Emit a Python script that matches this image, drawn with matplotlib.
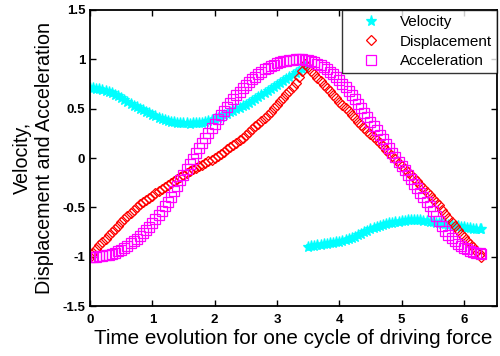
import matplotlib as mpl
mpl.use('Agg')
import matplotlib.pyplot as plt
import matplotlib.ticker as mticker
import numpy as np

# sampling grid over one cycle of the driving force (0 .. 2*pi)
t = list(np.round(np.arange(0, 6.26, 0.05), 2)) + [6.28]

velocity = [0.71, 0.705, 0.70, 0.695, 0.69, 0.68, 0.67, 0.655, 0.64, 0.625,
            0.61, 0.59, 0.57, 0.55, 0.53, 0.515, 0.50, 0.485, 0.47, 0.455,
            0.44, 0.425, 0.41, 0.40, 0.39, 0.38, 0.37, 0.365, 0.36, 0.357,
            0.355, 0.352, 0.35, 0.352, 0.355, 0.357, 0.36, 0.37, 0.38, 0.39,
            0.40, 0.41, 0.42, 0.435, 0.45, 0.465, 0.48, 0.495, 0.51, 0.525,
            0.54, 0.56, 0.58, 0.60, 0.62, 0.64, 0.66, 0.68, 0.70, 0.72,
            0.74, 0.76, 0.78, 0.80, 0.82, 0.84, 0.86, 0.88, 0.90, 0.92,
            -0.90, -0.895, -0.89, -0.885, -0.88, -0.875, -0.87, -0.865, -0.86, -0.855,
            -0.85, -0.84, -0.83, -0.82, -0.81, -0.795, -0.78, -0.765, -0.75, -0.735,
            -0.72, -0.71, -0.70, -0.69, -0.68, -0.67, -0.66, -0.655, -0.65, -0.645,
            -0.64, -0.635, -0.63, -0.63, -0.63, -0.63, -0.63, -0.635, -0.64, -0.645,
            -0.65, -0.655, -0.66, -0.665, -0.67, -0.675, -0.68, -0.685, -0.69, -0.695,
            -0.70, -0.705, -0.71, -0.715, -0.72, -0.72, -0.72]

displacement = [-1.00, -0.96, -0.92, -0.885, -0.85, -0.815, -0.78, -0.75, -0.72, -0.685,
                -0.65, -0.62, -0.59, -0.56, -0.53, -0.50, -0.47, -0.445, -0.42, -0.40,
                -0.38, -0.355, -0.33, -0.31, -0.29, -0.27, -0.25, -0.23, -0.21, -0.19,
                -0.17, -0.15, -0.13, -0.115, -0.10, -0.085, -0.07, -0.05, -0.03, -0.015,
                0.00, 0.02, 0.04, 0.065, 0.09, 0.11, 0.13, 0.155, 0.18, 0.205,
                0.23, 0.26, 0.29, 0.32, 0.35, 0.38, 0.41, 0.44, 0.47, 0.505,
                0.54, 0.575, 0.61, 0.645, 0.68, 0.72, 0.76, 0.82, 0.88, 0.95,
                0.92, 0.885, 0.85, 0.815, 0.78, 0.745, 0.71, 0.675, 0.64, 0.605,
                0.57, 0.54, 0.51, 0.475, 0.44, 0.405, 0.37, 0.335, 0.30, 0.27,
                0.24, 0.21, 0.18, 0.15, 0.12, 0.085, 0.05, 0.02, -0.01, -0.045,
                -0.08, -0.11, -0.14, -0.17, -0.20, -0.235, -0.27, -0.305, -0.34, -0.375,
                -0.41, -0.445, -0.48, -0.525, -0.57, -0.61, -0.65, -0.69, -0.73, -0.765,
                -0.80, -0.835, -0.87, -0.905, -0.94, -0.975, -1.00]

acceleration = [-1.00, -1.00, -1.00, -0.995, -0.99, -0.985, -0.98, -0.97, -0.96, -0.945,
                -0.93, -0.91, -0.89, -0.865, -0.84, -0.815, -0.79, -0.76, -0.73, -0.695,
                -0.66, -0.62, -0.58, -0.535, -0.49, -0.44, -0.39, -0.335, -0.28, -0.225,
                -0.17, -0.115, -0.06, -0.005, 0.05, 0.10, 0.15, 0.20, 0.25, 0.30,
                0.35, 0.395, 0.44, 0.48, 0.52, 0.56, 0.60, 0.635, 0.67, 0.705,
                0.74, 0.77, 0.80, 0.825, 0.85, 0.875, 0.90, 0.915, 0.93, 0.945,
                0.96, 0.97, 0.98, 0.985, 0.99, 0.995, 1.00, 1.00, 1.00, 0.995,
                0.99, 0.98, 0.97, 0.955, 0.94, 0.92, 0.90, 0.875, 0.85, 0.82,
                0.79, 0.755, 0.72, 0.68, 0.64, 0.595, 0.55, 0.505, 0.46, 0.415,
                0.37, 0.325, 0.28, 0.235, 0.19, 0.145, 0.10, 0.055, 0.01, -0.035,
                -0.08, -0.125, -0.17, -0.215, -0.26, -0.305, -0.35, -0.395, -0.44, -0.49,
                -0.54, -0.59, -0.64, -0.69, -0.74, -0.775, -0.81, -0.84, -0.87, -0.89,
                -0.91, -0.925, -0.94, -0.95, -0.96, -0.965, -0.97]

plt.rcParams['font.family'] = ['Liberation Sans', 'DejaVu Sans']

fig = plt.figure(figsize=(5, 3.56), dpi=100)
ax = fig.add_axes([0.18, 0.14, 0.814, 0.832])

ax.plot(t, velocity, '*', color='#00ffff', markersize=8, markeredgewidth=0.9, label='Velocity')
ax.plot(t, displacement, 'D', color='#ff0000', markersize=5.5, markeredgewidth=0.9,
        fillstyle='none', label='Displacement')
ax.plot(t, acceleration, 's', color='#ff00ff', markersize=7.5, markeredgewidth=0.9,
        fillstyle='none', label='Acceleration')

ax.set_xlim(0, 6.53)
ax.set_ylim(-1.5, 1.5)
ax.set_xticks([0, 1, 2, 3, 4, 5, 6])
ax.set_yticks([-1.5, -1, -0.5, 0, 0.5, 1, 1.5])
ax.yaxis.set_major_formatter(mticker.FormatStrFormatter('%g'))
ax.tick_params(direction='in', top=True, right=True, length=4, width=1, labelsize=9.5)
ax.tick_params(axis='x', pad=6)
for lbl in ax.get_xticklabels() + ax.get_yticklabels():
    lbl.set_fontweight('bold')
for s in ax.spines.values():
    s.set_linewidth(1.3)

ax.set_xlabel('Time evolution for one cycle of driving force', fontsize=14.9, labelpad=2)
ax.set_ylabel('Velocity,\nDisplacement and Acceleration', fontsize=14.2, labelpad=6,
              linespacing=1.2)

leg = ax.legend(loc='upper right', fontsize=11, frameon=True, fancybox=False,
                borderaxespad=0, handlelength=3.0, handletextpad=0.4,
                borderpad=0.35, labelspacing=0.35, markerscale=1.0)
leg.get_frame().set_edgecolor('black')
leg.get_frame().set_linewidth(1.0)

plt.savefig('out.png', dpi=100)
